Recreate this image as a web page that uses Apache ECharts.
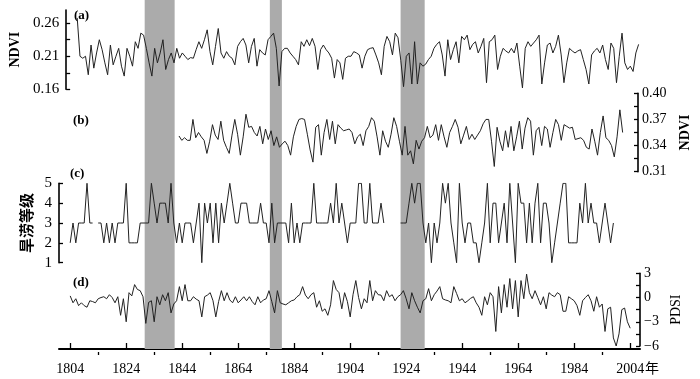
<!DOCTYPE html>
<html><head><meta charset="utf-8">
<script src="https://cdn.jsdelivr.net/npm/echarts@6/dist/echarts.min.js"></script>
<style>html,body{margin:0;padding:0;background:#fff}#c{width:700px;height:379px}</style>
</head><body><div id="c"></div>
<script>
// ---------- data ----------
const ndviAStart = 1804;
const ndviA = [
0.268,0.210,0.207,0.210,0.182,0.227,0.192,0.215,0.235,0.220,
0.200,0.182,0.227,0.197,0.210,0.222,0.195,0.180,0.222,0.210,
0.195,0.232,0.222,0.245,0.242,0.222,0.200,0.180,0.222,0.200,
0.215,0.235,0.190,0.205,0.215,0.200,0.222,0.207,0.215,0.210,
0.205,0.208,0.207,0.220,0.232,0.222,0.235,0.250,0.217,0.197,
0.225,0.252,0.215,0.207,0.217,0.210,0.207,0.197,0.225,0.232,
0.237,0.227,0.200,0.225,0.237,0.195,0.220,0.215,0.212,0.235,
0.240,0.245,0.222,0.165,0.217,0.222,0.222,0.215,0.210,0.205,
0.197,0.232,0.225,0.235,0.226,0.237,0.225,0.190,0.220,0.227,
0.220,0.215,0.207,0.177,0.205,0.200,0.175,0.207,0.210,0.210,
0.217,0.215,0.212,0.192,0.210,0.220,0.222,0.223,0.212,0.200,
0.182,0.225,0.240,0.232,0.212,0.245,0.238,0.204,0.164,0.210,
0.215,0.168,0.232,0.168,0.200,0.195,0.198,0.205,0.210,0.222,
0.228,0.232,0.212,0.180,0.235,0.205,0.220,0.232,0.200,0.240,
0.235,0.242,0.220,0.228,0.232,0.215,0.225,0.237,0.170,0.232,
0.235,0.242,0.190,0.210,0.222,0.218,0.215,0.222,0.215,0.230,
0.195,0.162,0.222,0.232,0.225,0.230,0.235,0.242,0.168,0.200,
0.227,0.230,0.215,0.225,0.242,0.212,0.170,0.200,0.222,0.218,
0.215,0.218,0.220,0.205,0.190,0.168,0.212,0.218,0.222,0.215,
0.227,0.205,0.190,0.230,0.222,0.170,0.210,0.245,0.200,0.190,
0.195,0.187,0.215,0.228];

const ndviBStart = 1843;
const ndviB = [
0.351,0.346,0.349,0.346,0.346,0.370,0.349,0.355,0.350,0.346,
0.331,0.345,0.364,0.352,0.347,0.368,0.346,0.338,0.331,0.352,
0.370,0.353,0.329,0.350,0.376,0.361,0.362,0.355,0.351,0.362,
0.342,0.359,0.347,0.357,0.340,0.350,0.338,0.342,0.345,0.340,
0.329,0.350,0.362,0.370,0.371,0.370,0.353,0.335,0.321,0.361,
0.364,0.329,0.355,0.370,0.347,0.368,0.342,0.364,0.360,0.357,
0.358,0.359,0.355,0.342,0.350,0.353,0.340,0.357,0.362,0.372,
0.368,0.350,0.329,0.357,0.345,0.338,0.353,0.372,0.362,0.345,
0.329,0.362,0.329,0.334,0.319,0.346,0.336,0.345,0.349,0.362,
0.349,0.352,0.364,0.346,0.364,0.350,0.338,0.355,0.362,0.370,
0.361,0.342,0.352,0.362,0.347,0.353,0.347,0.352,0.357,0.365,
0.370,0.370,0.345,0.316,0.361,0.345,0.334,0.357,0.338,0.362,
0.334,0.350,0.368,0.336,0.360,0.372,0.368,0.329,0.357,0.361,
0.340,0.362,0.359,0.338,0.355,0.370,0.364,0.346,0.364,0.362,
0.360,0.361,0.347,0.348,0.349,0.346,0.338,0.336,0.359,0.345,
0.329,0.355,0.374,0.349,0.346,0.340,0.327,0.350,0.381,0.355];

const gradeStart = 1804;
const grade = [
2,3,2,3,3,3,5,3,3,null,
3,3,2,3,2,3,2,3,3,3,
5,2,2,2,2,3,3,3,3,5,
4,3,4,4,4,3,5,3,2,3,
2,3,3,3,2,3,4,1,4,3,
4,2,4,2,4,3,4,5,4,3,
3,4,4,4,3,3,3,3,4,3,
3,2,4,2,3,3,3,3,2,4,
2,3,2,3,3,3,3,5,3,3,
3,3,3,4,3,5,3,4,3,2,
3,3,3,5,5,3,3,5,3,3,
3,4,3,null,null,null,null,null,3,3,
3,4,5,4,5,5,3,2,3,1,
3,2,3,5,4,5,3,2,1,5,
3,2,3,3,2,2,1,2,3,5,
2,4,4,2,3,4,2,5,3,1,
5,4,4,2,4,2,4,5,2,4,
4,3,1,2,3,4,5,5,2,2,
2,2,4,3,5,3,4,3,3,2,
3,4,3,2,3];

const pdsiStart = 1804;
const pdsi = [
0.2,-0.65,-0.15,-1.0,-0.65,-1.0,-1.2,-0.4,-0.5,-0.65,
-0.15,0.0,0.1,-0.15,0.35,0.0,-0.65,0.1,-2.2,-0.15,
-3.0,0.6,0.2,1.6,1.0,0.85,0.1,-3.2,-0.6,-0.4,
-3.0,0.1,-0.9,0.35,-0.4,0.6,-1.9,-0.8,-0.4,1.35,
-0.4,1.6,-0.4,-0.4,0.1,-0.2,-0.4,-2.4,0.1,0.3,
0.6,-0.4,-2.4,-0.5,0.85,-0.4,0.6,-0.3,-0.65,0.1,
-0.65,-0.3,0.1,-0.4,0.1,-0.5,-0.9,0.1,-0.65,-0.3,
-0.15,0.85,-0.5,-1.9,0.85,-0.65,-0.8,-0.9,-0.65,-0.4,
-0.3,0.1,0.35,1.35,0.3,-0.15,0.35,0.6,-1.2,-0.4,
-1.7,-1.4,-2.2,-0.9,2.1,1.0,0.6,-1.4,0.6,-0.5,
-2.4,0.35,2.1,0.0,-1.4,-0.15,-0.65,2.1,-0.4,0.85,
0.35,0.3,-0.4,0.85,0.1,0.35,-0.4,0.1,0.35,0.85,
-0.15,-1.4,0.6,-0.4,-1.2,-1.9,-0.4,-0.15,1.1,-0.4,
0.35,0.8,1.35,-0.15,-0.3,-0.4,-0.65,1.35,0.5,-0.4,
-0.15,-0.65,-0.4,-0.1,0.1,-0.65,-1.2,-2.2,0.1,-0.9,
0.6,0.1,-4.2,1.35,-1.9,1.6,-1.2,2.35,-1.4,2.1,
-2.4,2.1,-0.15,2.9,0.6,-0.15,0.85,0.0,-0.9,0.1,
-1.4,0.6,0.3,0.1,0.6,0.35,-1.7,-1.7,0.1,-0.15,
-0.4,-1.0,-2.2,-0.4,0.0,0.35,-0.4,-1.7,0.1,-1.2,
-0.8,-4.2,-1.4,-1.2,-5.0,-6.0,-4.5,-1.5,-1.3,-3.0,-3.8];

const bands = [[1830.6, 1841.3], [1875.3, 1879.6], [1922.0, 1930.6]];

const xMajor = [1804,1824,1844,1864,1884,1904,1924,1944,1964,1984,2004];
const xMinor = [1814,1834,1854,1874,1894,1914,1934,1954,1974,1994];

const aTicks = [0.16,0.185,0.21,0.235,0.26];
const aLabels = [0.16,0.21,0.26];
const bTicks = [0.31,0.325,0.34,0.355,0.37,0.385,0.40];
const bLabels = [0.31,0.34,0.37,0.40];
const cTicks = [1,2,3,4,5];
const dTicks = [-6,-4.5,-3,-1.5,0,1.5,3];
const dLabels = [-6,-3,0,3];

// ---------- chart ----------
const SERIF = "'Liberation Serif','Times New Roman',serif";
const CJK = "'Noto Sans CJK SC',sans-serif";
const toPairs = (start, arr) => arr.map((v, i) => [start + i, v]);

const L = 59, R = 60, XMIN = 1800, XMAX = 2007.5;
const grids = [
  {left: L, right: R, top: 10, height: 79.3},
  {left: L, right: R, top: 93.3, height: 78.4},
  {left: L, right: R, top: 183.3, height: 79.4},
  {left: L, right: R, top: 273.3, height: 72.7},
  {left: L, right: R, top: 0, height: 349}
];

function hiddenX(gi) {
  return {type: 'value', gridIndex: gi, min: XMIN, max: XMAX, show: false};
}
function yAx(gi, pos, min, max, ticks, labels, fmt, name, nameGap, nameFont, nameWeight, nameSize, labSize) {
  return {
    type: 'value', gridIndex: gi, position: pos, min: min, max: max,
    axisLine: {show: true, lineStyle: {color: '#000', width: 1.6}},
    axisTick: {show: true, inside: true, length: 4, customValues: ticks, lineStyle: {color: '#000', width: 1.3}},
    axisLabel: {show: true, customValues: labels, formatter: fmt, margin: pos === 'left' ? 7 : 4,
      color: '#000', fontFamily: SERIF, fontSize: labSize},
    splitLine: {show: false},
    name: name, nameLocation: 'middle', nameGap: nameGap,
    nameTextStyle: {fontFamily: nameFont, fontWeight: nameWeight, fontSize: nameSize, color: '#000'}
  };
}
const fmt2 = v => Number(v).toFixed(2);
const fmtInt = v => String(v);
const fmtMinus = v => (v < 0 ? '\u2212' + Math.abs(v) : String(v));

const lineStyle = {color: '#222', width: 1};
function lineSeries(gi, data) {
  return {type: 'line', xAxisIndex: gi, yAxisIndex: gi, data: data, symbol: 'none',
    lineStyle: lineStyle, connectNulls: false, silent: true, z: 5, animation: false};
}

const option = {
  animation: false,
  backgroundColor: '#fff',
  grid: grids,
  xAxis: [
    hiddenX(0), hiddenX(1), hiddenX(2), hiddenX(3),
    {type: 'value', gridIndex: 4, min: XMIN, max: XMAX, position: 'bottom', offset: 6,
      axisLine: {show: true, lineStyle: {color: '#000', width: 2}},
      axisTick: {show: true, inside: true, length: 6, customValues: xMajor, lineStyle: {color: '#000', width: 1.3}},
      axisLabel: {show: true, customValues: xMajor, margin: 7, color: '#000', fontFamily: SERIF, fontSize: 14,
        formatter: v => String(v)},
      splitLine: {show: false}},
    {type: 'value', gridIndex: 4, min: XMIN, max: XMAX, position: 'bottom', offset: 6,
      axisLine: {show: false},
      axisTick: {show: true, inside: true, length: 3, customValues: xMinor, lineStyle: {color: '#000', width: 1.3}},
      axisLabel: {show: false}, splitLine: {show: false}}
  ],
  yAxis: [
    yAx(0, 'left', 0.16, 0.28, aTicks, aLabels, fmt2, 'NDVI', 40, SERIF, 'bold', 14, 15),
    yAx(1, 'right', 0.31, 0.40, bTicks, bLabels, fmt2, 'NDVI', 40, SERIF, 'bold', 14, 14),
    yAx(2, 'left', 1, 5, cTicks, cTicks, fmtInt, '旱涝等级', 22, CJK, 'bold', 15, 15),
    yAx(3, 'right', -6, 3, dTicks, dLabels, fmtMinus, 'PDSI', 27, SERIF, 'normal', 14, 14),
    {type: 'value', gridIndex: 4, min: 0, max: 1, show: false}
  ],
  series: [
    {type: 'line', xAxisIndex: 4, yAxisIndex: 4, data: [[XMIN, 0]], symbol: 'none',
      lineStyle: {opacity: 0}, silent: true, z: 1,
      markArea: {silent: true, itemStyle: {color: '#ababab', opacity: 1},
        data: bands.map(b => [{xAxis: b[0]}, {xAxis: b[1]}])}},
    lineSeries(0, toPairs(ndviAStart, ndviA)),
    lineSeries(1, toPairs(ndviBStart, ndviB)),
    lineSeries(2, toPairs(gradeStart, grade)),
    lineSeries(3, toPairs(pdsiStart, pdsi))
  ],
  graphic: [
    {type: 'text', x: 74, y: 16, style: {text: '(a)', font: 'bold 13px ' + SERIF, fill: '#000', verticalAlign: 'middle'}},
    {type: 'text', x: 73, y: 121, style: {text: '(b)', font: 'bold 13px ' + SERIF, fill: '#000', verticalAlign: 'middle'}},
    {type: 'text', x: 70, y: 174, style: {text: '(c)', font: 'bold 13px ' + SERIF, fill: '#000', verticalAlign: 'middle'}},
    {type: 'text', x: 73, y: 283, style: {text: '(d)', font: 'bold 13px ' + SERIF, fill: '#000', verticalAlign: 'middle'}},
    {type: 'text', x: 645, y: 368, style: {text: '年', font: '14px ' + CJK, fill: '#000', verticalAlign: 'middle'}}
  ]
};

const chart = echarts.init(document.getElementById('c'), null, {renderer: 'canvas'});
chart.setOption(option);
</script>
</body></html>
